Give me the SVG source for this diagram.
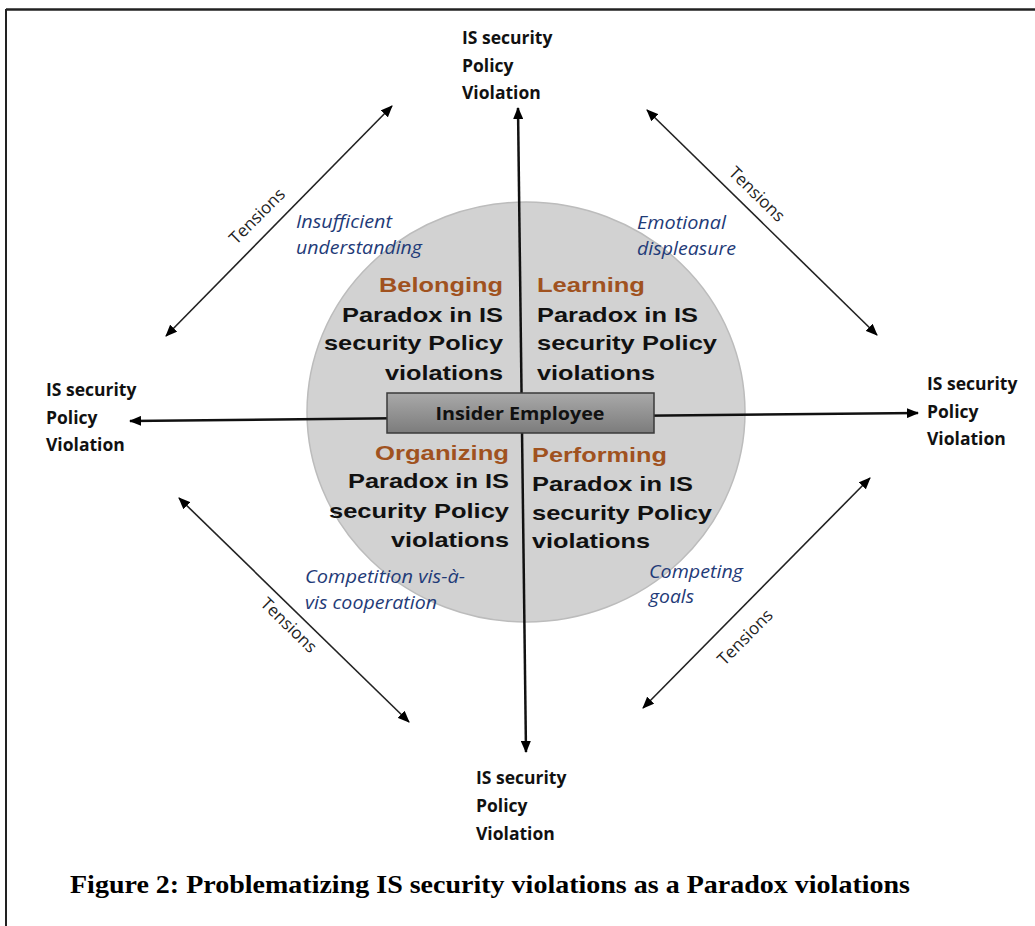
<svg xmlns="http://www.w3.org/2000/svg" width="1035" height="926" viewBox="0 0 1035 926">
  <defs>
    <marker id="ah" viewBox="0 0 12 10" refX="11" refY="5" markerWidth="12" markerHeight="10" markerUnits="userSpaceOnUse" orient="auto-start-reverse">
      <path d="M0,0 L12,5 L0,10 z" fill="#000"/>
    </marker>
    <linearGradient id="boxg" x1="0" y1="0" x2="0" y2="1">
      <stop offset="0" stop-color="#a9a9a9"/>
      <stop offset="1" stop-color="#7c7c7c"/>
    </linearGradient>
    <style>
      .lbl { font-family: "Open Sans", "Liberation Sans", sans-serif; font-weight: bold; font-size: 17.5px; fill: #111; }
      .ten { font-family: "Open Sans", "Liberation Sans", sans-serif; font-size: 17px; fill: #222; text-anchor: middle; }
      .it { font-family: "Open Sans", "Liberation Sans", sans-serif; font-style: italic; font-size: 18.5px; fill: #1f3b78; }
      .qh { font-family: "Liberation Sans", Arial, sans-serif; font-weight: bold; font-size: 21px; fill: #a0521f; }
      .qt { font-family: "Liberation Sans", Arial, sans-serif; font-weight: bold; font-size: 21px; fill: #111; }
      .end { text-anchor: end; }
      .diag { stroke: #222; stroke-width: 1.6; fill: none; marker-start: url(#ah); marker-end: url(#ah); }
      .axis { stroke: #111; stroke-width: 2.5; fill: none; marker-end: url(#ah); }
      .cap { font-family: "Liberation Serif", "Times New Roman", serif; font-weight: bold; font-size: 26px; fill: #000; }
    </style>
  </defs>

  <rect width="1035" height="926" fill="#fff"/>
  <!-- frame -->
  <g id="frame" stroke="#222" fill="none">
    <line x1="6" y1="9.5" x2="1035" y2="9.5" stroke-width="2.5"/>
    <line x1="6" y1="9" x2="6" y2="926" stroke-width="2"/>
  </g>

  <g id="circle">
    <ellipse cx="526" cy="412" rx="219" ry="210" fill="#d2d2d2" stroke="#bcbcbc" stroke-width="1.5"/>
  </g>

  <g id="connectors">
    <line class="axis" x1="522" y1="430" x2="518" y2="108"/>
    <line class="axis" x1="522" y1="430" x2="526" y2="752"/>
    <line class="axis" x1="520" y1="417" x2="130" y2="421"/>
    <line class="axis" x1="520" y1="417" x2="918" y2="413"/>
    <line class="diag" x1="166" y1="336" x2="392" y2="106"/>
    <line class="diag" x1="647" y1="110" x2="877" y2="335"/>
    <line class="diag" x1="179" y1="498" x2="409" y2="722"/>
    <line class="diag" x1="643" y1="708" x2="870" y2="478"/>
  </g>

  <g id="insider">
    <rect x="387" y="393" width="267" height="40" fill="url(#boxg)" stroke="#3a3a3a" stroke-width="1.5"/>
    <text class="lbl" x="520" y="420" text-anchor="middle" style="font-size:18px" textLength="169" lengthAdjust="spacingAndGlyphs">Insider Employee</text>
  </g>

  <g id="top-violation">
    <text class="lbl" x="462" y="44">IS security</text>
    <text class="lbl" x="462" y="72">Policy</text>
    <text class="lbl" x="462" y="99">Violation</text>
  </g>
  <g id="left-violation">
    <text class="lbl" x="46" y="396">IS security</text>
    <text class="lbl" x="46" y="424">Policy</text>
    <text class="lbl" x="46" y="451">Violation</text>
  </g>
  <g id="right-violation">
    <text class="lbl" x="927" y="390">IS security</text>
    <text class="lbl" x="927" y="418">Policy</text>
    <text class="lbl" x="927" y="445">Violation</text>
  </g>
  <g id="bottom-violation">
    <text class="lbl" x="476" y="784">IS security</text>
    <text class="lbl" x="476" y="812">Policy</text>
    <text class="lbl" x="476" y="840">Violation</text>
  </g>

  <g id="tensions">
    <text class="ten" transform="translate(257,216) rotate(-45)" dy="6">Tensions</text>
    <text class="ten" transform="translate(757,194) rotate(44.4)" dy="6">Tensions</text>
    <text class="ten" transform="translate(289,625) rotate(44.2)" dy="6">Tensions</text>
    <text class="ten" transform="translate(745,637) rotate(-45.4)" dy="6">Tensions</text>
  </g>

  <g id="tension-labels">
    <text class="it" x="296" y="228" textLength="96" lengthAdjust="spacingAndGlyphs">Insufficient</text>
    <text class="it" x="296" y="254" textLength="126" lengthAdjust="spacingAndGlyphs">understanding</text>
    <text class="it" x="637" y="229" textLength="89" lengthAdjust="spacingAndGlyphs">Emotional</text>
    <text class="it" x="637" y="255" textLength="99" lengthAdjust="spacingAndGlyphs">displeasure</text>
    <text class="it" x="305" y="583" textLength="160" lengthAdjust="spacingAndGlyphs">Competition vis-à-</text>
    <text class="it" x="305" y="609" textLength="132" lengthAdjust="spacingAndGlyphs">vis cooperation</text>
    <text class="it" x="649" y="578" textLength="94" lengthAdjust="spacingAndGlyphs">Competing</text>
    <text class="it" x="649" y="603" textLength="45" lengthAdjust="spacingAndGlyphs">goals</text>
  </g>

  <g id="belonging">
    <text class="qh end" x="503" y="292" textLength="124" lengthAdjust="spacingAndGlyphs">Belonging</text>
    <text class="qt end" x="503" y="322" textLength="161" lengthAdjust="spacingAndGlyphs">Paradox in IS</text>
    <text class="qt end" x="503" y="350" textLength="179" lengthAdjust="spacingAndGlyphs">security Policy</text>
    <text class="qt end" x="503" y="380" textLength="118" lengthAdjust="spacingAndGlyphs">violations</text>
  </g>
  <g id="learning">
    <text class="qh" x="537" y="292" textLength="108" lengthAdjust="spacingAndGlyphs">Learning</text>
    <text class="qt" x="537" y="322" textLength="161" lengthAdjust="spacingAndGlyphs">Paradox in IS</text>
    <text class="qt" x="537" y="350" textLength="180" lengthAdjust="spacingAndGlyphs">security Policy</text>
    <text class="qt" x="537" y="380" textLength="118" lengthAdjust="spacingAndGlyphs">violations</text>
  </g>
  <g id="organizing">
    <text class="qh end" x="509" y="460" textLength="134" lengthAdjust="spacingAndGlyphs">Organizing</text>
    <text class="qt end" x="509" y="488" textLength="161" lengthAdjust="spacingAndGlyphs">Paradox in IS</text>
    <text class="qt end" x="509" y="518" textLength="180" lengthAdjust="spacingAndGlyphs">security Policy</text>
    <text class="qt end" x="509" y="547" textLength="118" lengthAdjust="spacingAndGlyphs">violations</text>
  </g>
  <g id="performing">
    <text class="qh" x="532" y="462" textLength="135" lengthAdjust="spacingAndGlyphs">Performing</text>
    <text class="qt" x="532" y="491" textLength="161" lengthAdjust="spacingAndGlyphs">Paradox in IS</text>
    <text class="qt" x="532" y="520" textLength="180" lengthAdjust="spacingAndGlyphs">security Policy</text>
    <text class="qt" x="532" y="548" textLength="118" lengthAdjust="spacingAndGlyphs">violations</text>
  </g>

  <g id="caption">
    <text class="cap" x="70" y="893" textLength="840" lengthAdjust="spacingAndGlyphs">Figure 2: Problematizing IS security violations as a Paradox violations</text>
  </g>
</svg>
